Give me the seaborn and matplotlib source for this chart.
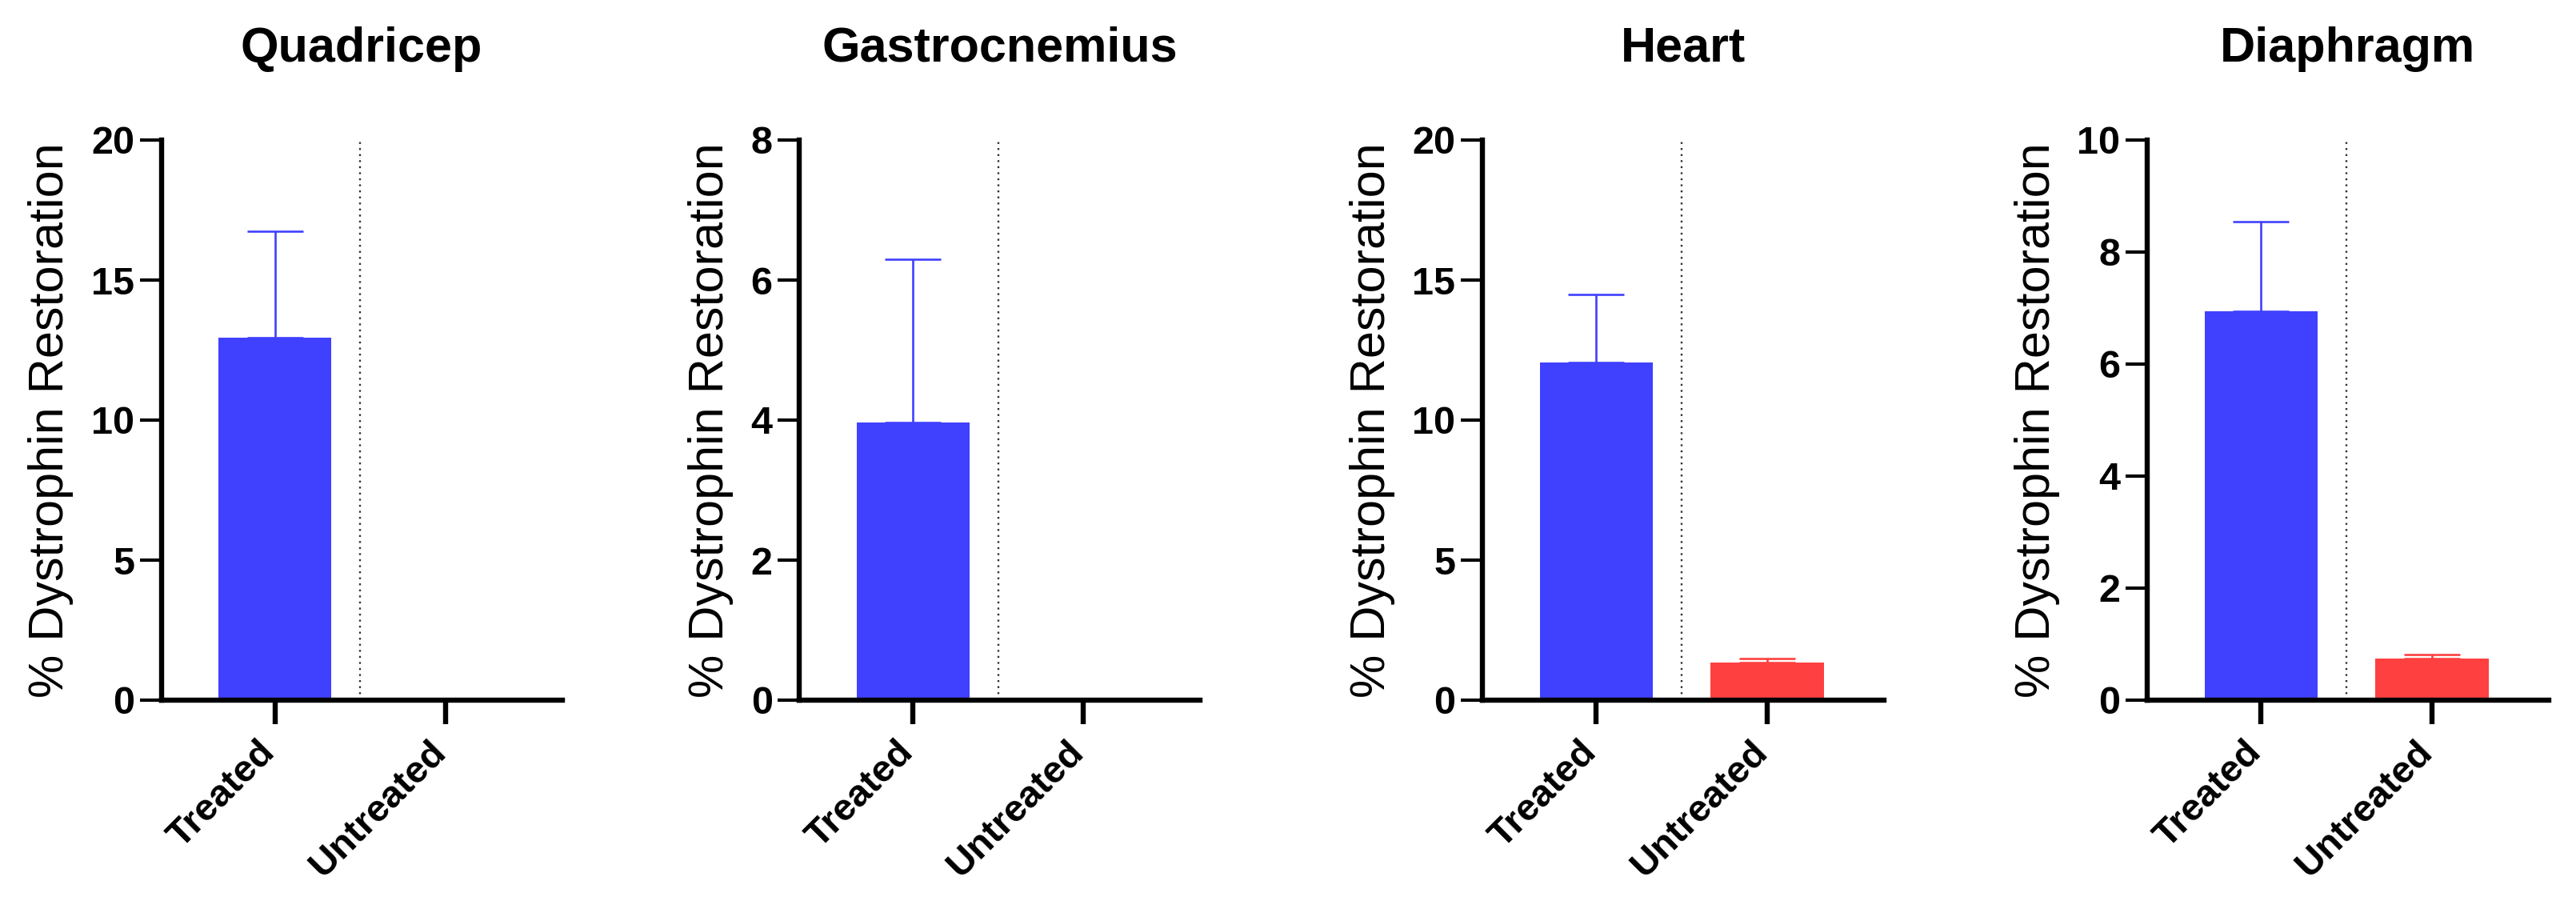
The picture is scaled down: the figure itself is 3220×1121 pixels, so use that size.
import numpy as np
import pandas as pd
import matplotlib
matplotlib.use("Agg")
import matplotlib.pyplot as plt
import matplotlib.transforms as mtransforms
import seaborn as sns

# ---- data ----
tissues = ["Quadricep", "Gastrocnemius", "Heart", "Diaphragm"]
groups = ["Treated", "Untreated"]
treated_mean = [12.95, 3.97, 12.05, 6.95]
treated_sd = [3.8, 2.33, 2.45, 1.6]
untreated_mean = [0.0, 0.0, 1.35, 0.74]
untreated_sd = [0.0, 0.0, 0.13, 0.08]
ymax = [20, 8, 20, 10]
ystep = [5, 2, 5, 2]
ylabel = "% Dystrophin Restoration"

blue = "#4040FF"
red = "#FF4040"

sns.set_style("ticks")
plt.rcParams["font.family"] = ["Liberation Sans", "DejaVu Sans"]
plt.rcParams.update({"text.color": "black", "axes.labelcolor": "black",
                     "xtick.color": "black", "ytick.color": "black",
                     "axes.edgecolor": "black"})

W, H = 3220, 1121
DPI = 100
fig = plt.figure(figsize=(W / DPI, H / DPI), dpi=DPI)

# axes pixel geometry
ax_left_px = [201.5, 999, 1852.5, 2683.5]
ax_right_px = [702.5, 1500, 2355, 3186]
ax_top_px, ax_bot_px = 175, 875
label_off_px = [-137.5, -111, -137, -137]

for i, t in enumerate(tissues):
    l, r = ax_left_px[i], ax_right_px[i]
    ax = fig.add_axes([l / W, (H - ax_bot_px) / H, (r - l) / W, (ax_bot_px - ax_top_px) / H])
    df = pd.DataFrame({"group": groups, "value": [treated_mean[i], untreated_mean[i]]})
    sns.barplot(data=df, x="group", y="value", hue="group", palette=[blue, red],
                width=0.66, errorbar=None, legend=False, ax=ax, saturation=1,
                edgecolor="none", linewidth=0)
    means = np.array([treated_mean[i], untreated_mean[i]])
    sds = np.array([treated_sd[i], untreated_sd[i]])
    for k, c in enumerate([blue, red]):
        if means[k] > 0:
            ax.errorbar([k], [means[k]], yerr=[[0], [sds[k]]], fmt="none",
                        ecolor=c, elinewidth=1.9, capsize=25, capthick=1.9, zorder=3)
    ax.axvline(0.5, color="#333333", linestyle=(0, (1, 2.2)), linewidth=1.7, zorder=0.5)
    ax.set_xlim(-0.667, 1.683)
    ax.set_ylim(0, ymax[i])
    ax.set_yticks(np.arange(0, ymax[i] + 0.001, ystep[i]))
    ax.set_xlabel("")
    ax.set_ylabel(ylabel, fontsize=44, va="center", color="black")
    ax.yaxis.set_label_coords(label_off_px[i] / (r - l), 0.5)
    sns.despine(ax=ax)
    for s in ["left", "bottom"]:
        ax.spines[s].set_linewidth(4.6)
        ax.spines[s].set_color("black")
    ax.tick_params(axis="y", length=19.5, width=3.0, labelsize=35, pad=4.5,
                   color="black", labelcolor="black")
    ax.tick_params(axis="x", length=21.5, width=4.6, labelsize=34, pad=9.5,
                   color="black", labelcolor="black")
    for lab in ax.get_yticklabels():
        lab.set_fontweight("bold")
    ax.set_xticks([0, 1])
    ax.set_xticklabels(groups, rotation=45, ha="right", va="top",
                       rotation_mode="anchor", fontweight="bold", fontsize=34,
                       color="black")
    shift = mtransforms.ScaledTranslation(-22 / DPI, 0, fig.dpi_scale_trans)
    for lab in ax.get_xticklabels():
        lab.set_transform(lab.get_transform() + shift)
    fig.text((l + r) / 2 / W, 1 - 61 / H, t, ha="center", va="center",
             fontsize=44, fontweight="bold", color="black")

fig.savefig("out.png", dpi=DPI, facecolor="white")
